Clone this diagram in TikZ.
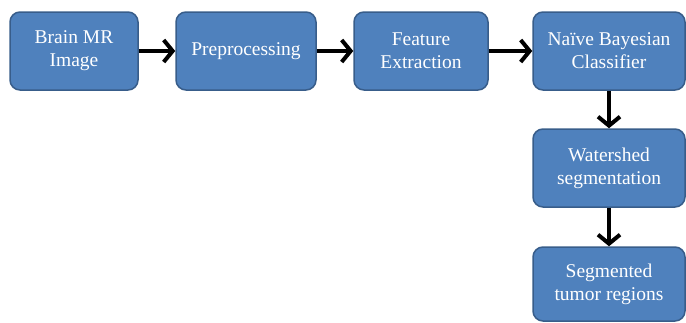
\documentclass[tikz,border=0pt]{standalone}
\usepackage{fontspec}
\setmainfont{Liberation Serif}
\usetikzlibrary{arrows.meta}
\definecolor{boxfill}{HTML}{4F81BD}
\definecolor{boxline}{HTML}{385D8A}
\begin{document}
\begin{tikzpicture}[x=1pt,y=-1pt,
  stepbox/.style={draw=boxline,fill=boxfill,line width=1.5pt,rounded corners=10pt,
    text=white,font=\fontsize{19.5}{23}\selectfont,align=center,inner sep=0pt},
  conn/.style={line width=4pt,-{Straight Barb[length=9pt,width=22pt,line width=4pt]}}]
\useasboundingbox (0,0) rectangle (686,322);
\node[stepbox,minimum width=128pt,minimum height=78pt] (b1) at (74,51) {Brain MR\\Image};
\node[stepbox,minimum width=140pt,minimum height=78pt] (b2) at (246,51) {Preprocessing};
\node[stepbox,minimum width=134pt,minimum height=78pt] (b3) at (421,51) {Feature\\Extraction};
\node[stepbox,minimum width=152pt,minimum height=78pt] (b4) at (609,51) {Naïve Bayesian\\Classifier};
\node[stepbox,minimum width=152pt,minimum height=78pt] (b5) at (609,168) {Watershed\\segmentation};
\node[stepbox,minimum width=152pt,minimum height=74pt] (b6) at (609,284) {Segmented\\tumor regions};
\draw[conn] (b1) -- (b2);
\draw[conn] (b2) -- (b3);
\draw[conn] (b3) -- (b4);
\draw[conn] (b4) -- (b5);
\draw[conn] (b5) -- (b6);
\end{tikzpicture}
\end{document}
